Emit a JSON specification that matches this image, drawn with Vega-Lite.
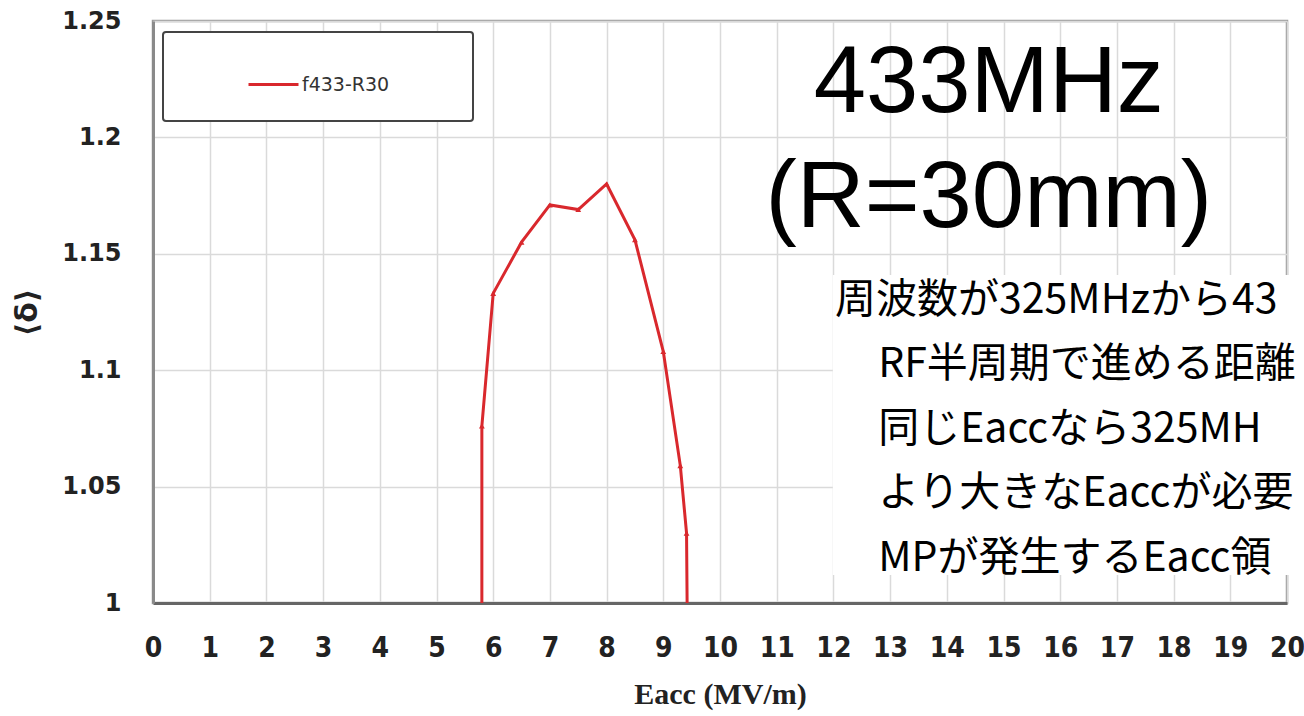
{
  "$schema": "https://vega.github.io/schema/vega-lite/v6.json",
  "width": 1134,
  "height": 582,
  "autosize": {"type": "none"},
  "padding": {"left": 153, "top": 21, "right": 17, "bottom": 113},
  "background": "white",
  "config": {
    "view": {"stroke": "#9a9a9a", "strokeWidth": 2.5},
    "legend": {
      "orient": "none",
      "legendX": 10,
      "legendY": 11,
      "titleOrient": "right",
      "titlePadding": 58,
      "titleFontSize": 10,
      "padding": 26,
      "symbolOffset": 58,
      "symbolType": "stroke",
      "symbolSize": 2500,
      "symbolStrokeWidth": 3,
      "labelFont": "DejaVu Sans",
      "labelFontSize": 19,
      "labelColor": "#333",
      "labelOffset": 2,
      "strokeColor": "#444",
      "strokeWidth": 2,
      "cornerRadius": 3,
      "fillColor": "white"
    }
  },
  "layer": [
    {
      "data": {
        "values": [
          {"E": 5.8, "d": 1.0},
          {"E": 5.8, "d": 1.076},
          {"E": 6.0, "d": 1.133},
          {"E": 6.5, "d": 1.155},
          {"E": 7.0, "d": 1.171},
          {"E": 7.5, "d": 1.169},
          {"E": 8.0, "d": 1.18},
          {"E": 8.5, "d": 1.156},
          {"E": 9.0, "d": 1.108},
          {"E": 9.3, "d": 1.059},
          {"E": 9.41, "d": 1.03},
          {"E": 9.42, "d": 1.0}
        ]
      },
      "layer": [
        {
          "mark": {"type": "line", "strokeWidth": 3},
          "encoding": {
            "x": {
              "field": "E",
              "type": "quantitative",
              "title": "Eacc (MV/m)",
              "scale": {"domain": [0, 20], "nice": false, "zero": false},
              "axis": {
                "values": [0,1,2,3,4,5,6,7,8,9,10,11,12,13,14,15,16,17,18,19,20],
                "format": "d",
                "grid": true,
                "gridColor": "#dadada",
                "gridWidth": 1.5,
                "ticks": false,
                "domainColor": "#666",
                "domainWidth": 3,
                "labelFont": "DejaVu Sans Condensed",
                "labelFontWeight": "bold",
                "labelFontSize": 28,
                "labelColor": "#222",
                "labelPadding": 31,
                "labelFlush": false,
                "labelOverlap": false,
                "titleFont": "Liberation Serif",
                "titleFontWeight": "bold",
                "titleFontSize": 30,
                "titleColor": "#222",
                "titleBaseline": "alphabetic",
                "titleY": 100
              }
            },
            "y": {
              "field": "d",
              "type": "quantitative",
              "title": "⟨δ⟩",
              "scale": {"domain": [1, 1.25], "nice": false, "zero": false},
              "axis": {
                "values": [1, 1.05, 1.1, 1.15, 1.2, 1.25],
                "format": "~g",
                "grid": true,
                "gridColor": "#dadada",
                "gridWidth": 1.5,
                "ticks": false,
                "domainColor": "#8a8a8a",
                "domainWidth": 3,
                "labelFont": "DejaVu Sans",
                "labelFontWeight": "bold",
                "labelFontSize": 24,
                "labelColor": "#222",
                "labelPadding": 32,
                "titleFont": "DejaVu Sans",
                "titleFontWeight": "bold",
                "titleFontSize": 30,
                "titleColor": "#222",
                "titleBaseline": "middle",
                "titleX": -126
              }
            },
            "color": {
              "datum": "f433-R30",
              "type": "nominal",
              "scale": {"range": ["#d9282d"]},
              "legend": {"title": " "}
            },
            "order": {"value": null}
          }
        },
        {
          "transform": [{"filter": "datum.d > 1"}],
          "mark": {"type": "point", "shape": "triangle-up", "filled": true, "size": 34, "color": "#d9282d", "opacity": 1},
          "encoding": {
            "x": {"field": "E", "type": "quantitative"},
            "y": {"field": "d", "type": "quantitative"}
          }
        }
      ]
    },
    {
      "data": {"values": [{"t": "433MHz\n(R=30mm)"}]},
      "mark": {"type": "text", "font": "Liberation Sans", "fontSize": 94, "lineHeight": 115, "align": "center", "baseline": "alphabetic", "lineBreak": "\n", "color": "#000"},
      "encoding": {
        "x": {"datum": 14.74},
        "y": {"datum": 1.2109},
        "text": {"field": "t"}
      }
    },
    {
      "data": {"values": [{"t": "box"}]},
      "mark": {"type": "rect", "color": "white", "opacity": 1, "clip": false},
      "encoding": {
        "x": {"datum": 11.99},
        "x2": {"datum": 21},
        "y": {"datum": 1.012},
        "y2": {"datum": 1.1409}
      }
    },
    {
      "data": {"values": [{"note": "周波数が325MHzから43"}]},
      "mark": {"type": "text", "font": "Noto Sans CJK JP", "fontSize": 41, "align": "left", "baseline": "alphabetic", "color": "#000"},
      "encoding": {
        "x": {"datum": 12.03},
        "y": {"datum": 1.1246},
        "text": {"field": "note"}
      }
    },
    {
      "data": {"values": [{"note": "RF半周期で進める距離\n同じEaccなら325MH\nより大きなEaccが必要\nMPが発生するEacc領"}]},
      "mark": {"type": "text", "font": "Noto Sans CJK JP", "fontSize": 41, "lineHeight": 64.5, "align": "left", "baseline": "alphabetic", "lineBreak": "\n", "color": "#000"},
      "encoding": {
        "x": {"datum": 12.79},
        "y": {"datum": 1.0969},
        "text": {"field": "note"}
      }
    }
  ]
}
